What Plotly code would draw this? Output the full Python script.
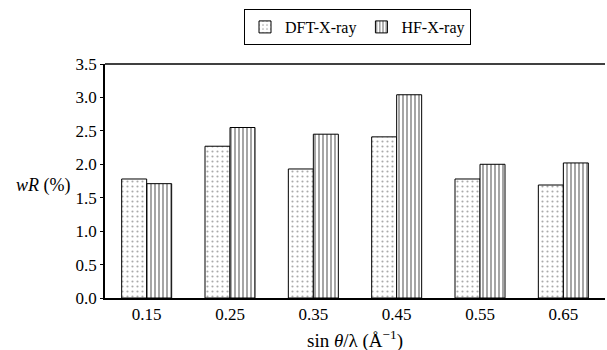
import plotly.graph_objects as go

categories = ["0.15", "0.25", "0.35", "0.45", "0.55", "0.65"]
dft_values = [1.78, 2.27, 1.93, 2.41, 1.78, 1.69]
hf_values = [1.71, 2.55, 2.45, 3.04, 2.00, 2.02]
y_ticks = [0.0, 0.5, 1.0, 1.5, 2.0, 2.5, 3.0, 3.5]
y_tick_labels = ["0.0", "0.5", "1.0", "1.5", "2.0", "2.5", "3.0", "3.5"]

FONT = "Liberation Serif"

fig = go.Figure()
fig.add_trace(go.Bar(
    x=categories, y=dft_values, name="DFT-X-ray",
    marker=dict(color="white", line=dict(color="black", width=1),
                pattern=dict(shape=".", fgcolor="#555555", bgcolor="white", size=5, solidity=0.15)),
))
fig.add_trace(go.Bar(
    x=categories, y=hf_values, name="HF-X-ray",
    marker=dict(color="white", line=dict(color="black", width=1),
                pattern=dict(shape="|", fgcolor="black", bgcolor="white", size=4, solidity=0.35)),
))

fig.update_layout(
    width=607, height=350,
    margin=dict(l=105, r=2, t=64, b=52),
    paper_bgcolor="white", plot_bgcolor="white",
    barmode="group", bargap=0.4, bargroupgap=0,
    font=dict(family=FONT, size=16, color="black"),
    showlegend=True,
    legend=dict(orientation="h", x=0.505, xanchor="center", y=1.235, yanchor="top",
                bordercolor="black", borderwidth=1, font=dict(size=16, family=FONT),
                itemwidth=30, tracegroupgap=0),
    xaxis=dict(showline=True, linecolor="black", linewidth=1.5, mirror=False,
               ticks="", tickfont=dict(size=17, family=FONT), showgrid=False),
    yaxis=dict(range=[0, 3.5], tickvals=y_ticks, ticktext=y_tick_labels,
               showline=True, linecolor="black", linewidth=1.5,
               ticks="outside", ticklen=3, tickcolor="black",
               tickfont=dict(size=17, family=FONT), showgrid=False, zeroline=False),
)

# top frame line
fig.add_shape(type="line", xref="paper", yref="paper", x0=0, x1=1, y0=1, y1=1,
              line=dict(color="black", width=1.5))

fig.add_annotation(text="<i>wR</i> (%)", xref="paper", yref="paper",
                   x=-0.064, y=0.48, xanchor="right", yanchor="middle",
                   showarrow=False, font=dict(size=18, family=FONT))
fig.add_annotation(text="sin <i>θ</i>/λ (Å<sup>−1</sup>)", xref="paper", yref="paper",
                   x=0.5, y=-0.115, xanchor="center", yanchor="top",
                   showarrow=False, font=dict(size=19, family=FONT))

fig.write_html("out.html")
